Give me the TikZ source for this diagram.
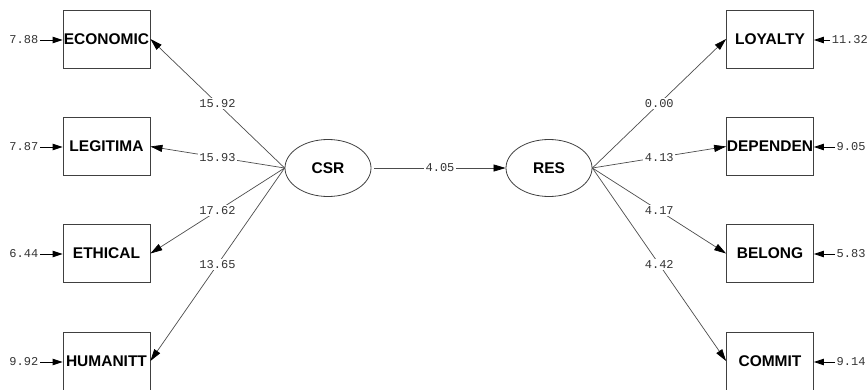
\documentclass[tikz,border=0pt]{standalone}
\usepackage{fontspec}
\setmainfont{Liberation Sans}
\newfontfamily\monofam{Liberation Mono}
\usetikzlibrary{arrows.meta,shapes.geometric}
\tikzset{
  var/.style={draw=black!75,line width=0.8pt,minimum width=87pt,minimum height=58pt,inner sep=0pt,
    font=\fontsize{15.5}{18}\selectfont\bfseries},
  lat/.style={draw=black!75,line width=0.8pt,ellipse,minimum width=86pt,minimum height=57pt,inner sep=0pt,
    font=\fontsize{15.5}{18}\selectfont\bfseries},
  num/.style={font=\monofam\fontsize{12}{14}\selectfont,text=black!80,inner sep=1.5pt},
  lbl/.style={num,fill=white,pos=0.5},
  path/.style={draw=black!70,line width=0.7pt,-{Triangle[length=12pt,width=7pt,color=black]}},
  err/.style={draw=black,line width=0.9pt,-{Triangle[length=10pt,width=6.5pt]}}
}
\begin{document}
\begin{tikzpicture}[x=1pt,y=-1pt]
\useasboundingbox (0,0) rectangle (868,389);
% left indicators
\node[var] (eco) at (106.5,39) {ECONOMIC};
\node[var] (leg) at (106.5,146.5) {LEGITIMA};
\node[var] (eth) at (106.5,253.5) {ETHICAL};
\node[var] (hum) at (106.5,361) {HUMANITT};
% right indicators
\node[var] (loy) at (770,39) {LOYALTY};
\node[var] (dep) at (770,146.5) {DEPENDEN};
\node[var] (bel) at (770,253.5) {BELONG};
\node[var] (com) at (770,361) {COMMIT};
% latent
\node[lat] (csr) at (328,168) {CSR};
\node[lat] (res) at (549,168) {RES};
% error labels left
\node[num,anchor=east] (e1) at (40,40) {7.88};
\node[num,anchor=east] (e2) at (40,147) {7.87};
\node[num,anchor=east] (e3) at (40,254) {6.44};
\node[num,anchor=east] (e4) at (40,362) {9.92};
% error labels right
\node[num,anchor=east,inner xsep=0pt] (e5) at (868,40) {11.32};
\node[num,anchor=west] (e6) at (835,147) {9.05};
\node[num,anchor=west] (e7) at (835,254) {5.83};
\node[num,anchor=west] (e8) at (835,362) {9.14};
\draw[err] (e1.east) -- (eco.west |- e1.east);
\draw[err] (e2.east) -- (leg.west |- e2.east);
\draw[err] (e3.east) -- (eth.west |- e3.east);
\draw[err] (e4.east) -- (hum.west |- e4.east);
\draw[err] ([xshift=-1.5pt]e5.west) -- (loy.east |- e5.west);
\draw[err] (e6.west) -- (dep.east |- e6.west);
\draw[err] (e7.west) -- (bel.east |- e7.west);
\draw[err] (e8.west) -- (com.east |- e8.west);
% loadings
\draw[path] (csr.west) -- node[lbl] {15.92} (eco.east);
\draw[path] (csr.west) -- node[lbl] {15.93} (leg.east);
\draw[path] (csr.west) -- node[lbl] {17.62} (eth.east);
\draw[path] (csr.west) -- node[lbl] {13.65} (hum.east);
\draw[path] (res.east) -- node[lbl] {0.00} (loy.west);
\draw[path] (res.east) -- node[lbl] {4.13} (dep.west);
\draw[path] (res.east) -- node[lbl] {4.17} (bel.west);
\draw[path] (res.east) -- node[lbl] {4.42} (com.west);
\draw[path] ([xshift=3pt]csr.east) -- node[lbl] {4.05} (res.west);
\end{tikzpicture}
\end{document}
